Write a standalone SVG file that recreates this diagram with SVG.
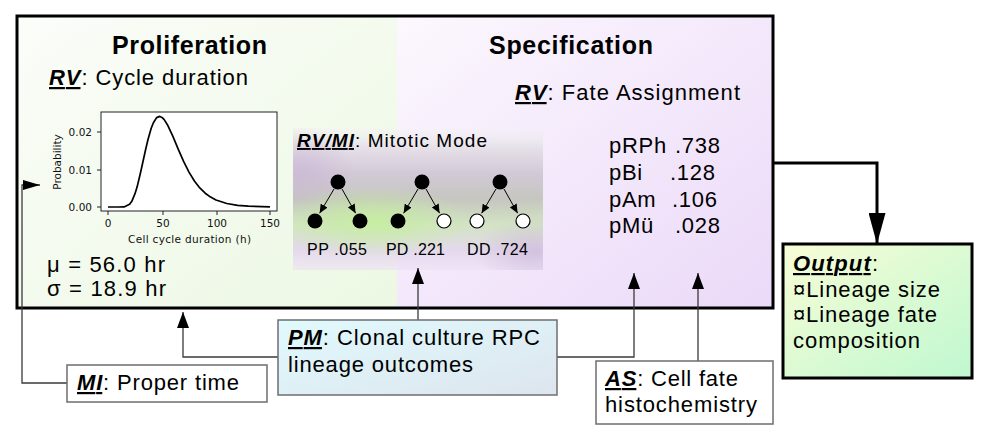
<svg xmlns="http://www.w3.org/2000/svg" width="985" height="439" viewBox="0 0 985 439">
<defs>
  <linearGradient id="gLeft" x1="0" y1="0" x2="1" y2="1">
    <stop offset="0" stop-color="#fbfdf9"/>
    <stop offset="1" stop-color="#ecf8e3"/>
  </linearGradient>
  <linearGradient id="gRight" x1="0" y1="0" x2="1" y2="1">
    <stop offset="0" stop-color="#fcf8fe"/>
    <stop offset="1" stop-color="#ebd9f8"/>
  </linearGradient>
  <linearGradient id="gOut" x1="0" y1="0" x2="1" y2="1">
    <stop offset="0" stop-color="#f8fdd6"/>
    <stop offset="1" stop-color="#bff8d0"/>
  </linearGradient>
  <linearGradient id="gPM" x1="0" y1="0" x2="1" y2="1">
    <stop offset="0" stop-color="#e0fafe"/>
    <stop offset="1" stop-color="#dde5ee"/>
  </linearGradient>
  <linearGradient id="gMM" x1="0" y1="0" x2="0" y2="1">
    <stop offset="0" stop-color="#f4f1f5" stop-opacity="0.3"/>
    <stop offset="0.14" stop-color="#e6e0e8"/>
    <stop offset="0.32" stop-color="#d2c9d6"/>
    <stop offset="0.5" stop-color="#c6c6c0"/>
    <stop offset="0.68" stop-color="#d3e3c4"/>
    <stop offset="0.86" stop-color="#e4d9ec"/>
    <stop offset="1" stop-color="#ece0f4" stop-opacity="0.6"/>
  </linearGradient>
  <radialGradient id="gGreen" cx="0.5" cy="0.5" r="0.5">
    <stop offset="0" stop-color="#c4f09c" stop-opacity="0.85"/>
    <stop offset="1" stop-color="#c4f09c" stop-opacity="0"/>
  </radialGradient>
  <radialGradient id="gPurp" cx="0.5" cy="0.5" r="0.5">
    <stop offset="0" stop-color="#c8b2d6" stop-opacity="0.6"/>
    <stop offset="1" stop-color="#c8b2d6" stop-opacity="0"/>
  </radialGradient>
  <clipPath id="mmClip">
    <rect x="293" y="128" width="250" height="142"/>
  </clipPath>
  <marker id="aS" markerUnits="userSpaceOnUse" markerWidth="9" markerHeight="8" refX="9" refY="4" orient="auto">
    <path d="M0,0 L9,4 L0,8 z" fill="#000"/>
  </marker>
  <marker id="aM" markerUnits="userSpaceOnUse" markerWidth="16" markerHeight="12" refX="16" refY="6" orient="auto">
    <path d="M0,0 L16,6 L0,12 z" fill="#000"/>
  </marker>
  <marker id="aL" markerUnits="userSpaceOnUse" markerWidth="17" markerHeight="10" refX="17" refY="5" orient="auto">
    <path d="M0,0 L17,5 L0,10 z" fill="#000"/>
  </marker>
  <marker id="aB" markerUnits="userSpaceOnUse" markerWidth="31" markerHeight="17" refX="31" refY="8.5" orient="auto">
    <path d="M0,0 L31,8.5 L0,17 z" fill="#000"/>
  </marker>
</defs>
<style>
  text { font-family: "Liberation Sans", Arial, sans-serif; fill: #000; }
  .t22 { font-size: 22px; }
  .h { font-size: 25px; font-weight: bold; }
  .k { font-weight: bold; font-style: italic; text-decoration: underline; }
  .sp { font-size: 22px; letter-spacing: 0.7px; }
  .box { fill: #fff; stroke: #6e6e6e; stroke-width: 1.5; }
  .conn { fill: none; stroke: #3a3a3a; stroke-width: 1.3; }
  .mpl { font-family: "DejaVu Sans", sans-serif; font-size: 10.5px; fill: #111; }
  .tick { stroke: #222; stroke-width: 1; }
  .tl { font-size: 16px; }
  .cf { fill: #000; }
  .ch { fill: #fff; stroke: #000; stroke-width: 1.2; }
  .ta { stroke: #000; stroke-width: 1; marker-end: url(#aS); }
</style>

<g id="main-panel">
  <rect x="17" y="16" width="380" height="292" fill="url(#gLeft)"/>
  <rect x="397" y="16" width="376" height="292" fill="url(#gRight)"/>
</g>

<g id="proliferation">
  <text class="h" x="112" y="54" textLength="155">Proliferation</text>
  <text class="t22" x="49" y="85" textLength="199"><tspan class="k">RV</tspan>: Cycle duration</text>
  <g id="plot">
    <rect x="101" y="112" width="176" height="99" fill="#fff" stroke="#222" stroke-width="1"/>
    <polyline fill="none" stroke="#000" stroke-width="1.7" stroke-linejoin="round" points="108,207 118,207 124,206.9 129.6,204.2 131.8,201.3 135,193.7 137.2,186.6 140.4,173.3 142.6,163.3 145.8,148.7 148,139.5 151.2,128.3 153.4,122.7 156.6,117.6 159.8,116.4 162,117.4 164.2,119.6 167.4,124.7 172.8,136.2 178.2,149.1 183.6,161.4 189,172.1 194.4,181 199.8,187.9 205.2,193.2 210.6,197.1 216,200 226.8,203.5 237.6,205.3 248.4,206.2 270,206.8"/>
    <path class="tick" d="M97,132 H101 M97,170 H101 M97,207 H101 M108,211 V215 M163,211 V215 M217,211 V215 M270,211 V215"/>
    <text class="mpl" x="92" y="135.5" text-anchor="end">0.02</text>
    <text class="mpl" x="92" y="173.5" text-anchor="end">0.01</text>
    <text class="mpl" x="92" y="210.5" text-anchor="end">0.00</text>
    <text class="mpl" x="108" y="227" text-anchor="middle">0</text>
    <text class="mpl" x="163" y="227" text-anchor="middle">50</text>
    <text class="mpl" x="217" y="227" text-anchor="middle">100</text>
    <text class="mpl" x="270" y="227" text-anchor="middle">150</text>
    <text class="mpl" x="128" y="243" textLength="123">Cell cycle duration (h)</text>
    <text class="mpl" transform="translate(61,162) rotate(-90)" text-anchor="middle">Probability</text>
  </g>
  <text class="t22" x="47" y="272" textLength="118">μ = 56.0 hr</text>
  <text class="t22" x="47" y="296" textLength="119">σ = 18.9 hr</text>
</g>

<g id="mitotic-mode">
  <g clip-path="url(#mmClip)">
    <rect x="293" y="128" width="250" height="142" fill="url(#gMM)"/>
    <ellipse cx="300" cy="170" rx="55" ry="45" fill="url(#gPurp)"/>
    <ellipse cx="535" cy="252" rx="60" ry="35" fill="url(#gPurp)"/>
    <ellipse cx="372" cy="222" rx="100" ry="36" fill="url(#gGreen)"/>
  </g>
  <text x="297" y="147" style="font-size:19px" textLength="190"><tspan class="k">RV/MI</tspan>: Mitotic Mode</text>
  <g id="tree-pp">
    <line class="ta" x1="334" y1="189" x2="319.6" y2="213.3"/>
    <line class="ta" x1="342" y1="189" x2="355.6" y2="213.2"/>
    <circle class="cf" cx="338" cy="182" r="7.5"/>
    <circle class="cf" cx="315" cy="221" r="7.5"/>
    <circle class="cf" cx="360" cy="221" r="7.5"/>
    <text class="tl" x="307" y="255" textLength="60">PP .055</text>
  </g>
  <g id="tree-pd">
    <line class="ta" x1="418" y1="189" x2="403.6" y2="213.3"/>
    <line class="ta" x1="426" y1="189" x2="439.6" y2="213.2"/>
    <circle class="cf" cx="422" cy="182" r="7.5"/>
    <circle class="cf" cx="398" cy="221" r="7.5"/>
    <circle class="ch" cx="444" cy="221" r="7"/>
    <text class="tl" x="386" y="255" textLength="59">PD .221</text>
  </g>
  <g id="tree-dd">
    <line class="ta" x1="496" y1="189" x2="481.6" y2="213.3"/>
    <line class="ta" x1="504" y1="189" x2="517.6" y2="213.2"/>
    <circle class="cf" cx="500" cy="182" r="7.5"/>
    <circle class="ch" cx="477" cy="221" r="7"/>
    <circle class="ch" cx="523" cy="221" r="7"/>
    <text class="tl" x="467" y="255" textLength="61">DD .724</text>
  </g>
</g>

<g id="specification">
  <text class="h" x="489" y="54" textLength="164">Specification</text>
  <text class="t22" x="515" y="100" textLength="225"><tspan class="k">RV</tspan>: Fate Assignment</text>
  <text class="sp" y="153"><tspan x="609">pRPh</tspan><tspan x="675">.738</tspan></text>
  <text class="sp" y="180"><tspan x="609">pBi</tspan><tspan x="670">.128</tspan></text>
  <text class="sp" y="207"><tspan x="609">pAm</tspan><tspan x="672">.106</tspan></text>
  <text class="sp" y="233"><tspan x="609">pMü</tspan><tspan x="675">.028</tspan></text>
</g>

<rect x="17" y="16" width="756" height="292" fill="none" stroke="#000" stroke-width="3"/>

<g id="connectors">
  <path class="conn" d="M67,383 H22 V185 H40" marker-end="url(#aL)"/>
  <path class="conn" d="M278,357 H183 V312" marker-end="url(#aM)"/>
  <path class="conn" d="M418,320 V268" marker-end="url(#aM)"/>
  <path class="conn" d="M557,357 H634 V273" marker-end="url(#aM)"/>
  <path class="conn" d="M698,361 V273" marker-end="url(#aM)"/>
  <path d="M773,163 H877 V244" fill="none" stroke="#000" stroke-width="3" marker-end="url(#aB)"/>
</g>

<g id="mi">
  <rect class="box" x="67" y="365" width="200" height="37"/>
  <text class="t22" x="77" y="390" textLength="162"><tspan class="k">MI</tspan>: Proper time</text>
</g>

<g id="pm">
  <rect x="278" y="320" width="279" height="75" fill="url(#gPM)" stroke="#6e6e6e" stroke-width="1.5"/>
  <text class="t22" x="288" y="345" textLength="252"><tspan class="k">PM</tspan>: Clonal culture RPC</text>
  <text class="t22" x="288" y="372" textLength="185">lineage outcomes</text>
</g>

<g id="as">
  <rect class="box" x="596" y="361" width="177" height="63"/>
  <text class="t22" x="605" y="386" textLength="133"><tspan class="k">AS</tspan>: Cell fate</text>
  <text class="t22" x="605" y="412" textLength="152">histochemistry</text>
</g>

<g id="output">
  <rect x="783" y="244" width="189" height="134" fill="url(#gOut)" stroke="#000" stroke-width="3"/>
  <text class="t22" x="793" y="271" textLength="85"><tspan class="k">Output</tspan>:</text>
  <text class="t22" x="793" y="297" textLength="147">¤Lineage size</text>
  <text class="t22" x="793" y="322" textLength="144">¤Lineage fate</text>
  <text class="t22" x="793" y="348" textLength="127">composition</text>
</g>
</svg>
